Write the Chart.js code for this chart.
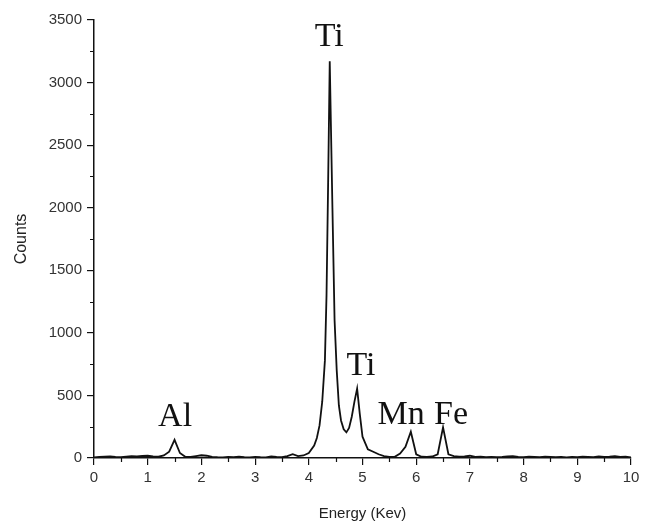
<!DOCTYPE html>
<html>
<head>
<meta charset="utf-8">
<script src="https://cdn.jsdelivr.net/npm/chart.js@4.4.1/dist/chart.umd.min.js"></script>
<style>
  html, body { margin: 0; padding: 0; background: #fff; }
  #wrap { width: 645px; height: 531px; }
</style>
</head>
<body>
<div id="wrap"><canvas id="eds"></canvas></div>
<script>
// --- SPECTRUM DATA ---
const energy = [
  0.0, 0.1, 0.2, 0.3, 0.4, 0.5, 0.6, 0.7, 0.8, 0.9,
  1.0, 1.1, 1.2, 1.3, 1.4, 1.5, 1.6, 1.7, 1.8, 1.9,
  2.0, 2.1, 2.2, 2.3, 2.4, 2.5, 2.6, 2.7, 2.8, 2.9,
  3.0, 3.1, 3.2, 3.3, 3.4, 3.5, 3.6, 3.7, 3.8, 3.9,
  4.0, 4.1, 4.15, 4.2, 4.25, 4.3, 4.33, 4.36, 4.39, 4.44,
  4.48, 4.52, 4.56, 4.6, 4.65, 4.7, 4.75, 4.8, 4.85, 4.9,
  4.95, 5.0, 5.1, 5.2, 5.3, 5.4, 5.5, 5.6, 5.7, 5.8,
  5.9, 6.0, 6.1, 6.2, 6.3, 6.4, 6.5, 6.6, 6.7, 6.8,
  6.9, 7.0, 7.1, 7.2, 7.3, 7.4, 7.5, 7.6, 7.7, 7.8,
  7.9, 8.0, 8.1, 8.2, 8.3, 8.4, 8.5, 8.6, 8.7, 8.8,
  8.9, 9.0, 9.1, 9.2, 9.3, 9.4, 9.5, 9.6, 9.7, 9.8,
  9.9, 10.0
];
const counts = [
  5, 8, 10, 12, 8, 6, 10, 14, 12, 16,
  18, 12, 10, 20, 50, 145, 40, 10, 8, 15,
  22, 18, 8, 6, 5, 8, 6, 10, 6, 4,
  8, 6, 5, 12, 8, 6, 15, 30, 15, 20,
  40, 100, 160, 260, 450, 780, 1300, 2200, 3170, 2000,
  1100, 700, 420, 300, 230, 205, 240, 330, 450, 555,
  350, 170, 70, 50, 30, 15, 8, 10, 35, 90,
  210, 30, 10, 8, 12, 30, 245, 30, 15, 10,
  12, 18, 8, 10, 6, 8, 6, 8, 12, 15,
  8, 6, 10, 8, 6, 10, 8, 6, 9, 5,
  8, 6, 10, 8, 6, 12, 8, 10, 15, 8,
  10, 5
];

// peak labels, anchored in data units (energy, counts) at the text baseline
const peakNames = ['Al', 'Ti', 'Ti', 'Mn', 'Fe'];
const peakEnergy = [1.51, 4.38, 4.97, 5.72, 6.65];
const peakCounts = [256, 3293, 663, 272, 272];

const yTicks = [0, 500, 1000, 1500, 2000, 2500, 3000, 3500];
const xTicks = [0, 1, 2, 3, 4, 5, 6, 7, 8, 9, 10];

const points = energy.map((e, i) => ({ x: e, y: counts[i] }));

const tickFont = { family: '"Liberation Sans", Arial, sans-serif', size: 15 };

// draws the short minor ticks and the element labels
const extrasPlugin = {
  id: 'extras',
  afterDraw(chart) {
    const ctx = chart.ctx;
    const xs = chart.scales.x;
    const ys = chart.scales.y;
    const area = chart.chartArea;
    ctx.save();
    ctx.strokeStyle = '#111';
    ctx.lineWidth = 1.2;
    ctx.beginPath();
    for (let i = 0; i < xTicks.length - 1; i++) {
      const px = Math.round(xs.getPixelForValue(xTicks[i] + 0.5)) + 0.5;
      ctx.moveTo(px, area.bottom);
      ctx.lineTo(px, area.bottom + 4);
    }
    for (let i = 0; i < yTicks.length - 1; i++) {
      const py = Math.round(ys.getPixelForValue(yTicks[i] + 250)) + 0.5;
      ctx.moveTo(area.left, py);
      ctx.lineTo(area.left - 4, py);
    }
    ctx.stroke();

    ctx.fillStyle = '#111';
    ctx.font = '34px "Liberation Serif", "Times New Roman", serif';
    ctx.textAlign = 'center';
    ctx.textBaseline = 'alphabetic';
    peakNames.forEach((name, i) => {
      ctx.fillText(name, xs.getPixelForValue(peakEnergy[i]), ys.getPixelForValue(peakCounts[i]));
    });
    ctx.restore();
  }
};

new Chart(document.getElementById('eds'), {
  type: 'line',
  data: {
    datasets: [{
      data: points,
      borderColor: '#111',
      borderWidth: 1.8,
      pointRadius: 0,
      tension: 0,
      fill: false
    }]
  },
  options: {
    responsive: true,
    maintainAspectRatio: false,
    animation: false,
    events: [],
    layout: { padding: { top: 20, right: 14, left: 0, bottom: 0 } },
    plugins: { legend: { display: false }, tooltip: { enabled: false } },
    scales: {
      x: {
        type: 'linear',
        min: 0,
        max: 10,
        afterFit: s => { s.height = 73; },
        afterBuildTicks: s => { s.ticks = xTicks.map(v => ({ value: v })); },
        border: { display: true, color: '#111', width: 1.5 },
        grid: { drawOnChartArea: false, drawTicks: true, tickLength: 7, color: '#111', lineWidth: 1.2 },
        ticks: {
          color: '#333',
          padding: 4,
          maxRotation: 0,
          font: tickFont,
          callback: v => String(v)
        },
        title: {
          display: true,
          text: 'Energy (Kev)',
          color: '#222',
          padding: { top: 0, bottom: 8 },
          font: { family: '"Liberation Sans", Arial, sans-serif', size: 15 }
        }
      },
      y: {
        min: 0,
        max: 3500,
        afterFit: s => { s.width = 94; },
        afterBuildTicks: s => { s.ticks = yTicks.map(v => ({ value: v })); },
        border: { display: true, color: '#111', width: 1.5 },
        grid: { drawOnChartArea: false, drawTicks: true, tickLength: 7, color: '#111', lineWidth: 1.2 },
        ticks: {
          color: '#333',
          padding: 5,
          font: tickFont,
          callback: v => String(v)
        },
        title: {
          display: true,
          text: 'Counts',
          color: '#222',
          padding: { top: 12, bottom: 0 },
          font: { family: '"Liberation Sans", Arial, sans-serif', size: 16 }
        }
      }
    }
  },
  plugins: [extrasPlugin]
});
</script>
</body>
</html>
